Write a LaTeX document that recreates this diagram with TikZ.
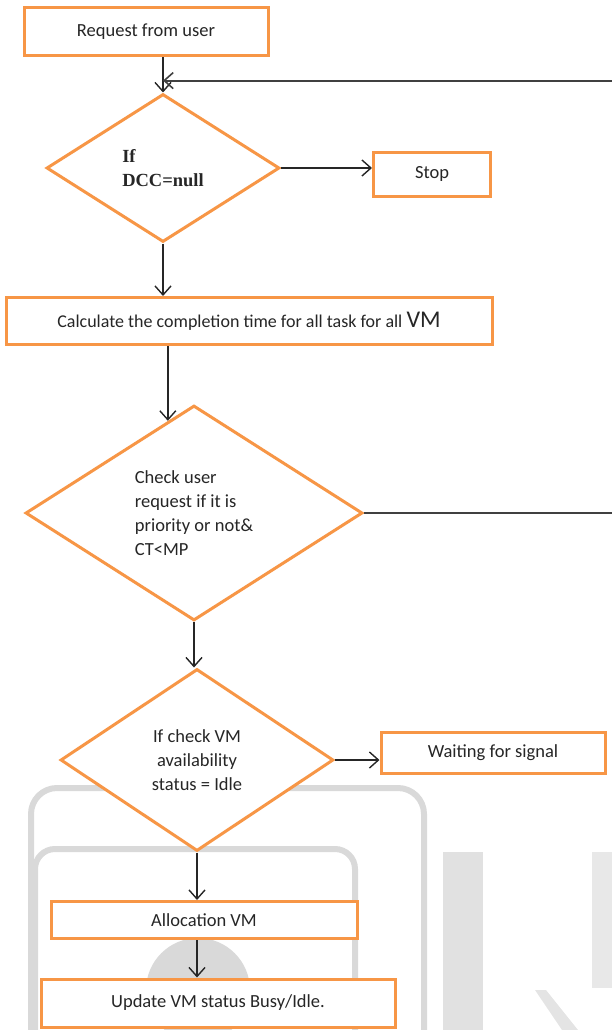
\documentclass[tikz,border=0pt]{standalone}
\usepackage{fontspec}
\setmainfont{Carlito}
\newfontfamily\ifserif{Liberation Serif}
\usetikzlibrary{shapes.geometric,arrows.meta,calc}

\definecolor{boxorange}{HTML}{F79646}
\definecolor{txtgray}{HTML}{262626}
\definecolor{wmgray}{HTML}{D9D9D9}

\tikzset{
  procbox/.style={rectangle, draw=boxorange, line width=3pt, fill=white,
    inner sep=0pt, text=txtgray, font=\fontsize{18.5}{24}\selectfont},
  decision/.style={diamond, shape aspect=1.5, draw=boxorange, line width=3pt,
    fill=white, inner sep=0pt, text=txtgray, font=\fontsize{18.5}{24}\selectfont},
  flow/.style={draw=black!85, line width=1.4pt,
    -{Straight Barb[length=9pt,width=16pt,line width=1.4pt]}},
  loopline/.style={draw=black!75, line width=2pt,
    -{Straight Barb[length=9pt,width=16pt,line width=1.6pt]}},
  wmline/.style={draw=wmgray, line width=6pt, rounded corners=26pt},
}

\begin{document}
\begin{tikzpicture}[x=1pt,y=-1pt]
    % --- Canvas ---
    \useasboundingbox (0,0) rectangle (612,1030);
    \clip (0,0) rectangle (612,1030);

    % --- Watermark behind the chart ---
    \draw[wmline] (31,1050) -- (31,788) -- (424,788) -- (424,1050);
    \draw[wmline, rounded corners=20pt] (35,1050) -- (35,849) -- (355,849) -- (355,1050);
    \fill[wmgray] (198,990) circle (52);
    \fill[wmgray!80] (443,852) rectangle (483,1030);
    \fill[wmgray!60] (592,852) rectangle (612,988);
    \fill[wmgray!70] (535,990) -- (546,990) -- (578,1030) -- (562,1030) -- cycle;

    % --- Process boxes ---
    \node[procbox, minimum width=244, minimum height=48] (req) at (146,32) {Request from user};
    \node[procbox, minimum width=117, minimum height=44] (stop) at (432,174) {Stop};
    \node[procbox, minimum width=486, minimum height=47, font=\fontsize{18}{24}\selectfont]
        (calc) at (249,321) {Calculate the completion time for all task for all {\fontsize{24}{24}\selectfont VM}};
    \node[procbox, minimum width=224, minimum height=41] (wait) at (493,753) {Waiting for signal};
    \node[procbox, minimum width=306, minimum height=37] (alloc) at (204,920) {Allocation VM};
    \node[procbox, minimum width=354, minimum height=48] (update) at (218,1003) {Update VM status Busy/Idle.};

    % --- Decisions ---
    \node[decision, minimum width=233, minimum height=148, align=left]
        (dcc) at (163,168) {\ifserif\bfseries If\\\ifserif\bfseries DCC=null};
    \node[decision, minimum width=337, minimum height=215, align=left]
        (prio) at (194,513) {Check user\\request if it is\\priority or not\&\\CT<MP};
    \node[decision, minimum width=273, minimum height=182, align=center]
        (avail) at (197,760) {If check VM\\availability\\status = Idle};

    % --- Helper points ---
    \coordinate (join) at ($(req.south -| dcc.north)!0.66!(dcc.north)$);
    \coordinate (prioin) at ($(prio.north)!0.154!(prio.west)$);

    % --- Connectors ---
    \draw[flow] (req.south -| dcc.north) -- (dcc.north);
    \draw[flow] (dcc.east) -- (dcc.east -| stop.west);
    \draw[flow] (dcc.south) -- (dcc.south |- calc.north);
    \draw[flow] (calc.south -| prioin) -- (prioin);
    \draw[flow] (prio.south) -- (prio.south |- avail.north);
    \draw[flow] (avail.east) -- (avail.east -| wait.west);
    \draw[flow] (avail.south) -- (avail.south |- alloc.north);
    \draw[flow] (alloc.south -| avail.south) -- (avail.south |- update.north);

    % --- Loop back to the first check ---
    \draw[loopline] (prio.east) -- ++(460,0) |- (join);
\end{tikzpicture}
\end{document}
